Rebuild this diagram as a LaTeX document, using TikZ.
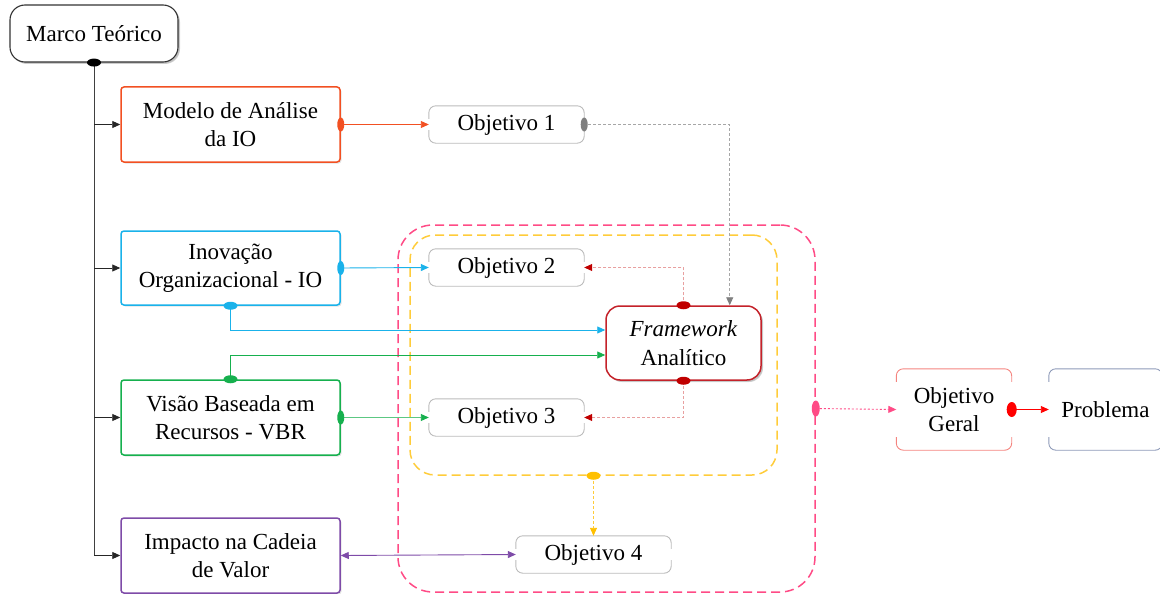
\documentclass[tikz,border=0pt]{standalone}
\usepackage{fontspec}
\setmainfont{Liberation Serif}
\usetikzlibrary{arrows.meta,shadows,calc,shapes.geometric}

\definecolor{cModelo}{HTML}{F25022}
\definecolor{cInov}{HTML}{1AB2EA}
\definecolor{cVisao}{HTML}{16B04E}
\definecolor{cImpacto}{HTML}{7E4BA8}
\definecolor{cFrame}{HTML}{C4222A}
\definecolor{cFrameDot}{HTML}{C00000}
\definecolor{cFrameLine}{HTML}{E8A0A0}
\definecolor{cPink}{HTML}{FF4B86}
\definecolor{cYellow}{HTML}{FFCC3A}
\definecolor{cYellowDot}{HTML}{FFC000}
\definecolor{cGeral}{HTML}{F4847F}
\definecolor{cProb}{HTML}{8E9AB8}
\definecolor{cObj}{HTML}{BBBBBB}
\definecolor{cGrayLine}{HTML}{A6A6A6}
\definecolor{cGrayDot}{HTML}{7F7F7F}

% open-sided frame: top and bottom edges with short rounded side stubs
\newcommand\objframe[2]{%
  \draw[#2, line width=0.9pt, rounded corners=7pt]
    ($(#1.north west)+(0,13)$) -- (#1.north west) -- (#1.north east) -- ($(#1.north east)+(0,13)$);
  \draw[#2, line width=0.9pt, rounded corners=7pt]
    ($(#1.south west)+(0,-13)$) -- (#1.south west) -- (#1.south east) -- ($(#1.south east)+(0,-13)$);
}

\begin{document}
\begin{tikzpicture}[x=1pt,y=-1pt,
  font=\fontsize{23}{28.5}\selectfont,
  box/.style={draw, line width=1.5pt, rounded corners=3pt, align=center, inner sep=0pt,
    fill=white, minimum width=219pt, minimum height=75pt,
    drop shadow={opacity=0.22, shadow xshift=1.5pt, shadow yshift=-1.5pt}},
  objbox/.style={align=center, inner sep=0pt, minimum width=155pt, minimum height=37pt},
  dotv/.style={ellipse, inner sep=0pt, minimum width=7pt, minimum height=14pt},
  doth/.style={ellipse, inner sep=0pt, minimum width=14pt, minimum height=8pt},
  tip/.style={-{Triangle[length=8pt,width=7pt]}},
  conn/.style={line width=0.9pt},
  fine/.style={line width=0.9pt, dash pattern=on 3pt off 2pt},
]
\useasboundingbox (0,0) rectangle (1160,594);

% dashed grouping regions
\node[draw=cPink, line width=1.5pt, dash pattern=on 9pt off 5pt, rounded corners=35pt,
  minimum width=417pt, minimum height=367pt, inner sep=0pt] (zone) at (606.5,408.5) {};
\node[draw=cYellow, line width=1.5pt, dash pattern=on 9pt off 5pt, rounded corners=25pt,
  minimum width=367pt, minimum height=240pt, inner sep=0pt] (yzone) at (593.5,355) {};

% root
\node[box, draw=black!80, line width=1.1pt, rounded corners=15pt, minimum width=168pt,
  minimum height=57pt, drop shadow={opacity=0.35, shadow xshift=2pt, shadow yshift=-2pt}]
  (marco) at (94,33.5) {Marco Teórico};

% theory boxes
\node[box, draw=cModelo] (modelo) at (230.5,124.5) {Modelo de Análise\\da IO};
\node[box, draw=cInov, minimum height=74pt] (inov) at (230.5,268) {Inovação\\Organizacional - IO};
\node[box, draw=cVisao] (visao) at (230.5,417.5) {Visão Baseada em\\Recursos - VBR};
\node[box, draw=cImpacto] (impacto) at (230.5,555.5) {Impacto na Cadeia\\de Valor};

% framework
\node[box, draw=cFrame, rounded corners=14pt, minimum width=155pt, minimum height=74pt,
  drop shadow={opacity=0.35, shadow xshift=2pt, shadow yshift=-2pt}]
  (fw) at (683.5,343) {\textit{Framework}\\Analítico};

% objectives
\node[objbox] (o1) at (506.5,124.5) {Objetivo 1};
\node[objbox] (o2) at (506.5,267.5) {Objetivo 2};
\node[objbox] (o3) at (506.5,417.5) {Objetivo 3};
\node[objbox] (o4) at (593.5,554.5) {Objetivo 4};
\node[objbox, minimum width=115pt, minimum height=81pt] (og) at (954,409.5) {Objetivo\\Geral};
\node[objbox, minimum width=113pt, minimum height=81pt] (prob) at (1105.5,409.5) {Problema};
\objframe{o1}{cObj}
\objframe{o2}{cObj}
\objframe{o3}{cObj}
\objframe{o4}{cObj}
\objframe{og}{cGeral}
\objframe{prob}{cProb}

% trunk and branches
\draw[conn, black!75] (marco.south) -- (marco.south |- impacto.west);
\draw[conn, black!85, tip] (marco.south |- modelo.west) -- (modelo.west);
\draw[conn, black!85, tip] (marco.south |- inov.west) -- (inov.west);
\draw[conn, black!85, tip] (marco.south |- visao.west) -- (visao.west);
\draw[conn, black!85, tip] (marco.south |- impacto.west) -- (impacto.west);
\node[doth, fill=black] (dm) at (marco.south) {};

% theory to objectives
\draw[conn, cModelo, tip] (modelo.east) -- (o1.west);
\node[dotv, fill=cModelo] (dmo) at (modelo.east) {};
\draw[conn, cInov, tip] (inov.east) -- (o2.west);
\node[dotv, fill=cInov] (dio) at (inov.east) {};
\draw[conn, cVisao!70, -{Triangle[length=8pt,width=7pt,fill=cVisao,color=cVisao]}]
  (visao.east) -- (o3.west);
\node[dotv, fill=cVisao] (dvo) at (visao.east) {};
\draw[conn, cImpacto, {Triangle[length=8pt,width=7pt]}-{Triangle[length=8pt,width=7pt]}]
  (impacto.east) -- (o4.west);

% theory to framework
\draw[conn, cInov, tip] (inov.south) |- ($(fw.west)+(0,-13)$);
\node[doth, fill=cInov] (dis) at (inov.south) {};
\draw[conn, cVisao, tip] (visao.north) |- ($(fw.west)+(0,12)$);
\node[doth, fill=cVisao] (dvn) at (visao.north) {};

% objective 1 to framework
\draw[fine, cGrayLine, -{Triangle[length=8pt,width=7pt,fill=cGrayDot,color=cGrayDot]}]
  ($(o1.east)+(4,0)$) -| ($(fw.north east)+(-32,0)$);
\node[dotv, fill=cGrayDot] (do1) at (o1.east) {};

% framework to objectives 2 and 3
\draw[fine, cFrameLine, -{Triangle[length=8pt,width=7pt,fill=cFrameDot,color=cFrameDot]}]
  (fw.north) |- (o2.east);
\node[doth, fill=cFrameDot] (dfn) at (fw.north) {};
\draw[fine, cFrameLine, -{Triangle[length=8pt,width=7pt,fill=cFrameDot,color=cFrameDot]}]
  (fw.south) |- (o3.east);
\node[doth, fill=cFrameDot] (dfs) at (fw.south) {};

% group to objective 4
\draw[fine, cYellow, -{Triangle[length=8pt,width=7pt,fill=cYellowDot,color=cYellowDot]}]
  (yzone.south) -- (o4.north);
\node[doth, fill=cYellowDot, minimum width=14pt] (dy) at (yzone.south) {};

% group to general objective, then to problem
\draw[line width=0.9pt, dash pattern=on 2pt off 2pt, cPink, tip] (zone.east) -- (og.west);
\node[dotv, fill=cPink, minimum width=8pt, minimum height=16pt] (dz) at (zone.east) {};
\draw[conn, red, tip] (og.east) -- (prob.west);
\node[dotv, fill=red, minimum width=10pt, minimum height=15pt] (dog) at (og.east) {};
\end{tikzpicture}
\end{document}
